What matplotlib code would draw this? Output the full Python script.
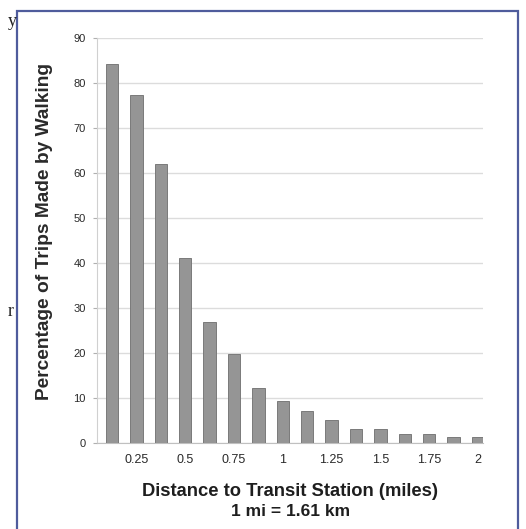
import matplotlib.pyplot as plt
import matplotlib.patches as patches
import numpy as np

plt.rcParams['font.family'] = ['Liberation Sans', 'DejaVu Sans']

# distancia a la estacion (millas) y porcentaje de viajes a pie
distancias = [0.125, 0.25, 0.375, 0.5, 0.625, 0.75, 0.875, 1.0,
              1.125, 1.25, 1.375, 1.5, 1.625, 1.75, 1.875, 2.0]
porcentajes = [84.3, 77.4, 62.0, 41.2, 27.0, 19.7, 12.3, 9.3,
               7.1, 5.2, 3.1, 3.1, 2.0, 2.0, 1.3, 1.3]
xticks = [0.25, 0.5, 0.75, 1.0, 1.25, 1.5, 1.75, 2.0]
xtick_labels = ['0.25', '0.5', '0.75', '1', '1.25', '1.5', '1.75', '2']
yticks = [0, 10, 20, 30, 40, 50, 60, 70, 80, 90]

fig = plt.figure(figsize=(5.26, 5.29), dpi=100)
fig.patch.set_facecolor('white')

# marco azul alrededor de la figura
marco = patches.Rectangle((17 / 526, -0.05), (518 - 17) / 526, 1.05 - 11 / 529,
                          transform=fig.transFigure, fill=False,
                          edgecolor='#4f5c9c', linewidth=1.6)
fig.patches.append(marco)

# restos de texto de la pagina
fig.text(8 / 526, 1 - 22 / 529, 'y', family='Liberation Serif', fontsize=13,
         ha='left', va='center', color='#222222')
fig.text(8 / 526, 1 - 312 / 529, 'r', family='Liberation Serif', fontsize=13,
         ha='left', va='center', color='#222222')

ax = fig.add_axes([97 / 526, 1 - 443 / 529, (483 - 97) / 526, (443 - 38) / 529])
ax.bar(distancias, porcentajes, width=0.064, color='#959595',
       edgecolor='#7a7a7a', linewidth=0.7, zorder=3)

ax.set_xlim(0.048, 2.026)
ax.set_ylim(0, 90)
ax.set_yticks(yticks)
ax.set_xticks(xticks)
ax.set_xticklabels(xtick_labels)
ax.yaxis.grid(True, color='#dcdcdc', linewidth=1.0, zorder=0)
ax.set_axisbelow(True)

for lado in ['top', 'right']:
    ax.spines[lado].set_visible(False)
ax.spines['left'].set_color('#d0d0d0')
ax.spines['bottom'].set_color('#c0c0c0')
ax.tick_params(axis='y', length=3, color='#b0b0b0', labelsize=8, pad=5,
               labelcolor='#2a2a2a')
ax.tick_params(axis='x', length=0, labelsize=9, pad=8, labelcolor='#2a2a2a')

fig.text(45 / 526, 1 - 231 / 529, 'Percentage of Trips Made by Walking',
         rotation=90, fontsize=13.8, fontweight='bold', color='#2a2a2a',
         ha='center', va='center')
fig.text(290 / 526, 1 - 491 / 529, 'Distance to Transit Station (miles)',
         fontsize=13.2, fontweight='bold', color='#1e1e1e',
         ha='center', va='center')
fig.text(291 / 526, 1 - 511 / 529, '1 mi = 1.61 km',
         fontsize=12.5, fontweight='bold', color='#1e1e1e',
         ha='center', va='center')

plt.savefig('out.png', dpi=100)
